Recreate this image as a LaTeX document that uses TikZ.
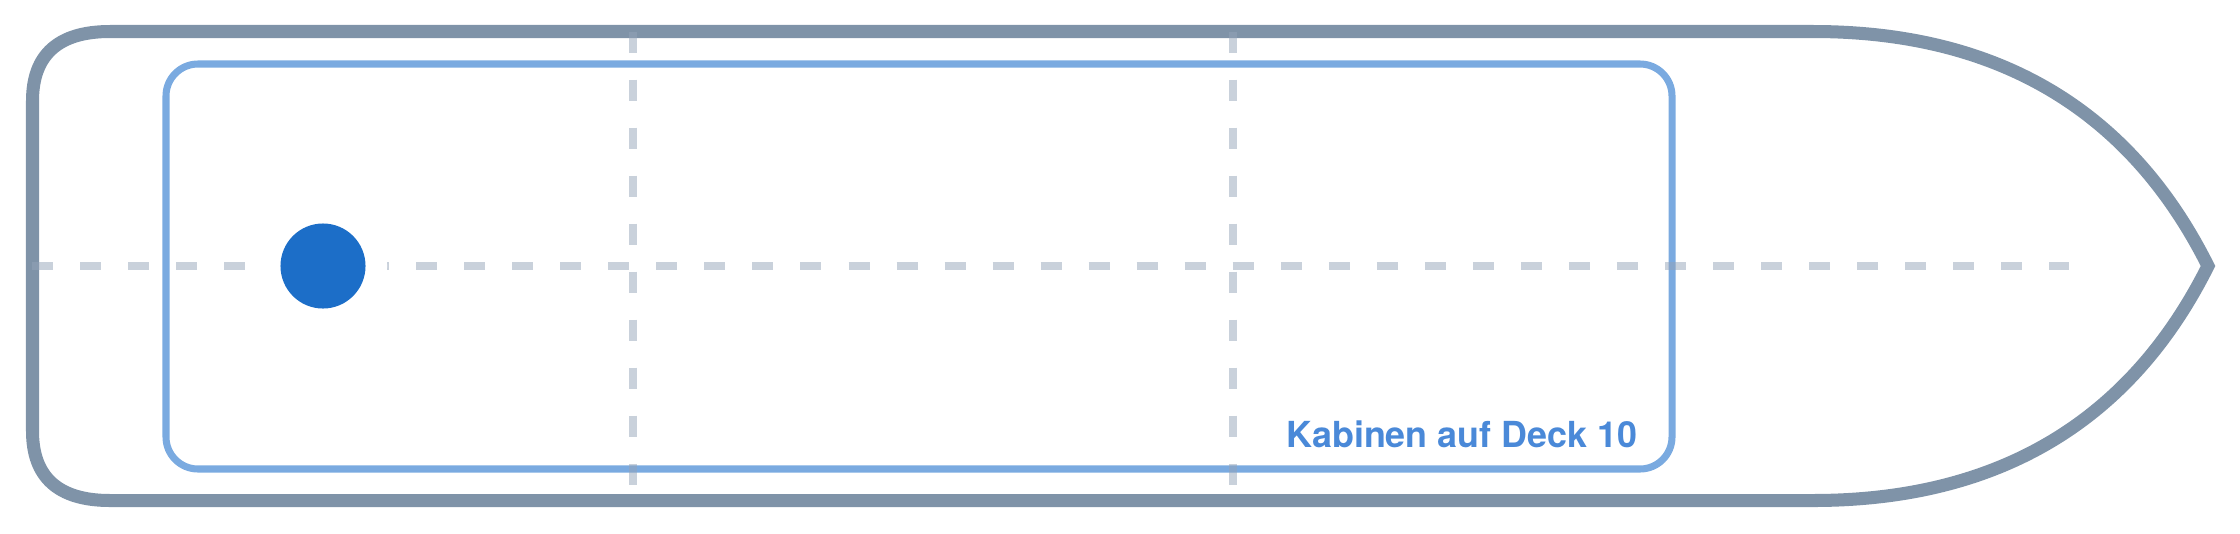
\documentclass[tikz,border=0pt]{standalone}
\usepackage{fontspec}
\setmainfont{TeX Gyre Heros}
\usepackage{tikz}

\definecolor{hullgray}{HTML}{7F93A8}
\definecolor{cabinblue}{HTML}{7AAAE0}
\definecolor{gridgray}{HTML}{94A3B8}
\definecolor{dotblue}{HTML}{1C6EC8}
\definecolor{labelblue}{HTML}{4A89D8}

\begin{document}
\begin{tikzpicture}[x=0.01cm, y=-0.01cm,
    hull/.style={draw=hullgray, line width=3.7pt, line join=miter},
    cabin/.style={draw=cabinblue, line width=2pt, rounded corners=0.32cm},
    gridline/.style={draw=gridgray, draw opacity=0.5, line width=2.1pt, dash pattern=on 0.21cm off 0.27cm},
    posdot/.style={circle, fill=dotblue, inner sep=0pt, minimum size=0.85cm},
    decklabel/.style={anchor=base east, inner sep=0pt, text=labelblue, font=\fontsize{10.2}{12}\selectfont\bfseries}]
    \useasboundingbox (0,0) rectangle (2240,533);

    % draw hull
    \draw[hull] (110,31.5) -- (1813,31.5)
      .. controls (1997.7,31.5) and (2130,110) .. (2208,266)
      .. controls (2130,422) and (1997.7,500.5) .. (1813,500.5)
      -- (110,500.5)
      .. controls (58,500.5) and (32.5,477) .. (32.5,431)
      -- (32.5,101)
      .. controls (32.5,55) and (58,31.5) .. (110,31.5) -- cycle;

    % draw cabin area
    \draw[cabin] (166,64) rectangle (1672,469);

    % draw grid lines
    \draw[gridline] (32,266) -- (2069,266);
    \foreach \x in {633,1233}
      \draw[gridline] (\x,31.5) -- (\x,500.5);

    % draw position
    \fill[white] (323,266) circle[radius=0.64cm];
    \node[posdot] (pos) at (323,266) {};

    % draw label
    \node[decklabel] (deck) at (1638,447) {Kabinen auf Deck 10};
\end{tikzpicture}
\end{document}
